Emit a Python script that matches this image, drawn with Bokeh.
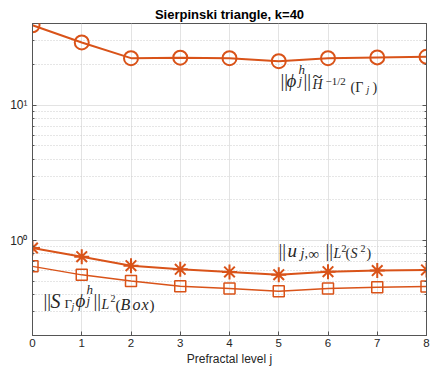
from bokeh.plotting import figure
from bokeh.models import (FixedTicker, CustomJSTickFormatter, Label, LogAxis,
                          ColumnDataSource)
from bokeh.embed import file_html
from bokeh.resources import INLINE

# ---- data ----
levels = [0, 1, 2, 3, 4, 5, 6, 7, 8]
norm_phi = [38.8, 29.0, 22.2, 22.4, 22.2, 21.1, 22.2, 22.5, 22.7]
norm_far = [0.884, 0.763, 0.655, 0.615, 0.589, 0.562, 0.591, 0.602, 0.609]
norm_box = [0.647, 0.560, 0.505, 0.461, 0.444, 0.424, 0.444, 0.454, 0.459]

x_ticks = [0, 1, 2, 3, 4, 5, 6, 7, 8]
y_major = [1, 10]
y_minor = [0.2, 0.3, 0.4, 0.5, 0.6, 0.7, 0.8, 0.9,
           2, 3, 4, 5, 6, 7, 8, 9, 20, 30, 40]

ORANGE = "#D95319"
AXC = "#262626"
BOX = "#555555"

src = ColumnDataSource(dict(j=levels, phi=norm_phi, far=norm_far, box=norm_box))

p = figure(width=434, height=374, y_axis_type="log",
           x_range=(0, 8), y_range=(0.2, 40),
           output_backend="svg", toolbar_location=None,
           title="Sierpinski triangle, k=40",
           min_border_left=32, min_border_right=8,
           min_border_top=23, min_border_bottom=39)

p.background_fill_color = "white"
p.border_fill_color = "white"
p.outline_line_color = BOX
p.outline_line_width = 1

p.title.text_font = "Liberation Sans"
p.title.text_font_size = "13px"
p.title.text_font_style = "bold"
p.title.text_color = "#000000"
p.title.align = "center"
p.title.standoff = 3

# axes
p.xaxis.ticker = FixedTicker(ticks=x_ticks)
p.yaxis.ticker = FixedTicker(ticks=y_major, minor_ticks=y_minor)
p.yaxis.formatter = CustomJSTickFormatter(
    code="return Math.round(Math.log10(tick)) == 0 ? '10\u2070' : '10\u00b9';")

for ax in (p.xaxis[0], p.yaxis[0]):
    ax.axis_line_color = BOX
    ax.major_tick_line_color = BOX
    ax.minor_tick_line_color = BOX
    ax.major_tick_in = 4
    ax.major_tick_out = 0
    ax.minor_tick_in = 2
    ax.minor_tick_out = 0
    ax.major_label_text_font = "Liberation Sans"
    ax.major_label_text_font_size = "11.5px"
    ax.major_label_text_color = AXC
    ax.major_label_standoff = 3

p.yaxis.major_label_text_font_size = "12px"
p.yaxis.major_label_standoff = 5
p.xaxis.minor_tick_line_color = None
p.xaxis.axis_label = "Prefractal level j"
p.xaxis.axis_label_text_font = "Liberation Sans"
p.xaxis.axis_label_text_font_size = "12px"
p.xaxis.axis_label_text_font_style = "normal"
p.xaxis.axis_label_text_color = AXC
p.xaxis.axis_label_standoff = 2

# right axis: ticks only (box with ticks like the reference)
rax = LogAxis(ticker=FixedTicker(ticks=y_major, minor_ticks=y_minor),
              major_label_text_color=None, major_label_standoff=0,
              major_label_text_font_size="1px",
              axis_line_color=BOX, major_tick_line_color=BOX,
              minor_tick_line_color=BOX,
              major_tick_in=4, major_tick_out=0,
              minor_tick_in=2, minor_tick_out=0)
p.add_layout(rax, "right")

# grids
p.xgrid.grid_line_color = "#e3e3e3"
p.ygrid.grid_line_color = "#e3e3e3"
p.ygrid.minor_grid_line_color = "#cccccc"
p.ygrid.minor_grid_line_dash = "1 2"

# series
p.line("j", "phi", source=src, line_color=ORANGE, line_width=2)
p.scatter("j", "phi", source=src, marker="circle", size=14,
          line_color=ORANGE, line_width=2, fill_color=None)

p.line("j", "far", source=src, line_color=ORANGE, line_width=2)
p.scatter("j", "far", source=src, marker="asterisk", size=15,
          line_color=ORANGE, line_width=2)

p.line("j", "box", source=src, line_color=ORANGE, line_width=1.5)
p.scatter("j", "box", source=src, marker="square", size=11,
          line_color=ORANGE, line_width=1.5, fill_color=None)

# ---- math-like labels built from text pieces ----
LIFT = 5  # baseline correction (px, upwards)


def piece(x, y, text, dx, dy, size, italic=False):
    p.add_layout(Label(x=x, y=y, x_offset=dx, y_offset=dy + LIFT, text=text,
                       text_font="Liberation Serif",
                       text_font_style="italic" if italic else "normal",
                       text_font_size=f"{size}px", text_color=AXC,
                       text_baseline="alphabetic", text_align="left"))


NORM = "||"
PHI = "\u03d5"

# ||phi_j^h||_{H~^{-1/2}(Gamma_j)}
ax1, ay1 = 5.036, 14.03
for t, dx, dy, s, it in [
        (NORM, 0, 0, 19, False), (PHI, 6, 0, 19, True),
        ("h", 18, 11, 13, True), ("j", 18, 0, 13, True),
        (NORM, 23, 0, 19, False),
        ("~", 32, 3, 18, False), ("H", 32, -4, 14, True),
        ("\u22121/2", 45, -1, 11, False),
        ("(\u0393", 70, -7, 14, False), ("j", 86, -9, 10, True),
        (")", 92, -7, 14, False)]:
    piece(ax1, ay1, t, dx, dy, s, it)

# ||u_{j,inf}||_{L^2(S^2)}
ax2, ay2 = 4.995, 0.776
for t, dx, dy, s, it in [
        (NORM, 0, 0, 19, False), ("u", 9, 0, 19, True),
        ("j,", 22, -3, 14, True), ("\u221e", 30, -3, 15, False),
        (NORM, 47, 0, 19, False),
        ("L", 55, -3, 14, True), ("2", 63, 2, 10, False),
        ("(", 67, -3, 14, False), ("S", 72, -3, 14, True),
        ("2", 82, 2, 10, False), (")", 88, -3, 14, False)]:
    piece(ax2, ay2, t, dx, dy, s, it)

# ||S_{Gamma_j} phi_j^h||_{L^2(Box)}
ax3, ay3 = 0.2234, 0.3327
for t, dx, dy, s, it in [
        (NORM, 0, 0, 19, False), ("S", 7, 0, 20, True),
        ("\u0393", 21, -3, 13, False), ("j", 28, -6, 10, True),
        (PHI, 32, 0, 19, True),
        ("h", 43, 11, 13, True), ("j", 43, 0, 13, True),
        (NORM, 50, 0, 19, False),
        ("L", 58, -4, 14, True), ("2", 67, 2, 10, False),
        ("(", 72, -4, 15, False), ("B", 77, -4, 16, True),
        ("o", 89, -4, 16, True), ("x", 98, -4, 16, True),
        (")", 106, -4, 15, False)]:
    piece(ax3, ay3, t, dx, dy, s, it)

open("out.html", "w").write(file_html(p, INLINE))
